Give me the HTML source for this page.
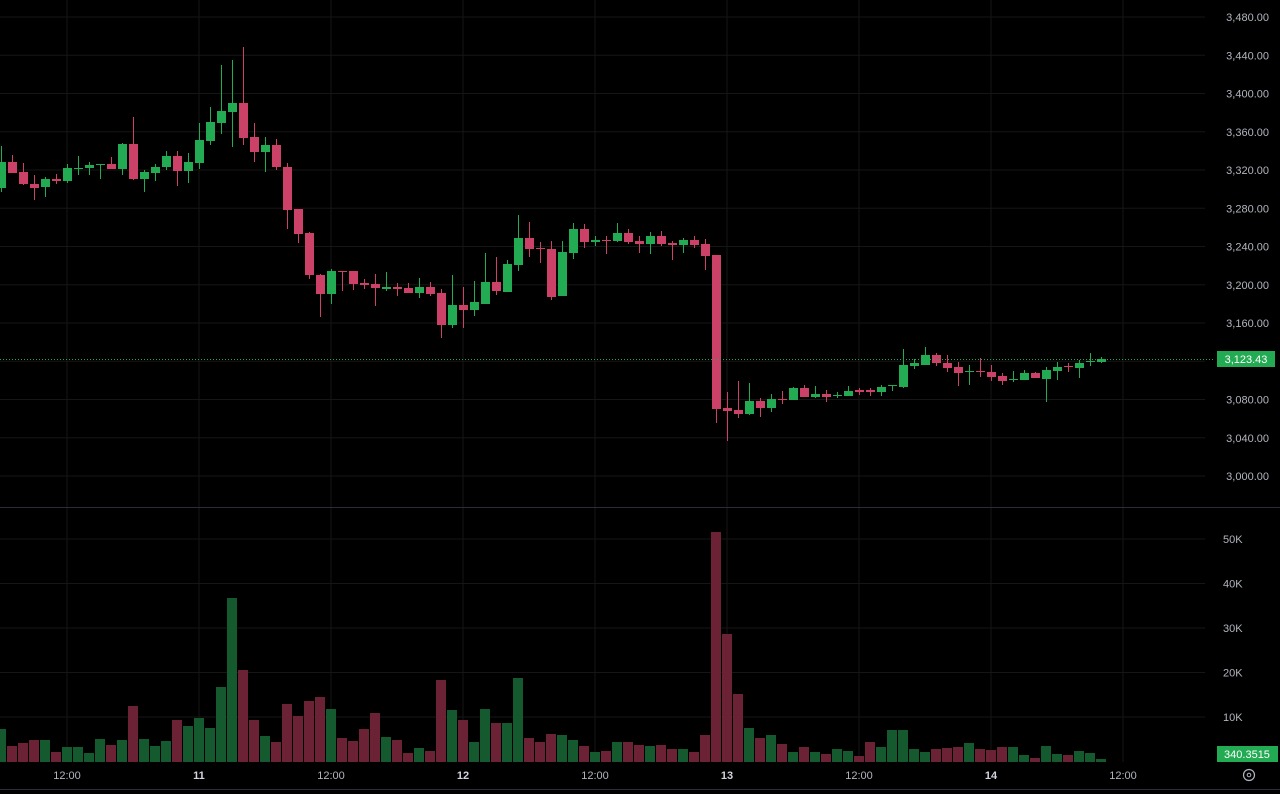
<!DOCTYPE html>
<html><head><meta charset="utf-8"><style>
html,body{margin:0;padding:0;background:#000;width:1280px;height:794px;overflow:hidden}
svg{display:block}
text{font-family:"Liberation Sans",sans-serif;font-size:11px;fill:#b2b5be}
</style></head><body>
<svg id="s" width="1280" height="794" xmlns="http://www.w3.org/2000/svg"></svg>
<script>
const C=[[188,162,146,192],[162,173,155,173],[172,184,163,185],[184,188,175,200],[187,179,177,197],[179,181,174,184],[181,168,164,183],[169,168,156,175],[168,165,162,175],[165,164,164,179],[164,169,157,169],[169,144,143,175],[144,179,117,180],[179,172,170,192],[173,167,164,181],[167,156,151,170],[156,171,151,186],[171,162,153,183],[163,140,123,169],[141,122,107,145],[123,111,65,134],[112,103,60,147],[103,138,47,145],[137,152,123,162],[152,145,137,172],[145,167,139,170],[167,210,163,229],[209,234,209,243],[233,275,232,279],[275,294,274,317],[294,271,269,304],[271,272,271,291],[271,284,271,290],[283,285,279,289],[284,288,274,306],[289,287,272,291],[287,289,283,296],[288,293,283,293],[293,287,278,298],[287,294,282,296],[293,325,289,338],[325,305,275,328],[305,310,287,328],[310,302,281,316],[304,282,253,304],[282,291,257,295],[292,264,260,292],[265,238,215,271],[238,249,222,257],[248,249,242,263],[249,297,241,300],[296,252,241,296],[253,229,223,259],[229,242,224,248],[242,240,236,246],[240,241,236,254],[241,233,223,242],[233,242,229,244],[241,244,236,253],[244,236,232,254],[236,244,231,246],[243,245,241,260],[245,240,238,253],[240,245,236,248],[244,256,239,270],[255,409,255,423],[408,411,392,441],[410,414,381,418],[414,401,383,415],[401,408,398,417],[408,399,394,412],[399,400,391,404],[400,388,387,400],[388,397,385,397],[397,394,386,398],[394,397,390,402],[396,395,392,398],[396,391,386,396],[390,392,388,395],[390,392,388,396],[392,387,385,396],[386,385,385,391],[387,365,349,388],[366,363,359,369],[365,355,347,365],[355,363,353,366],[363,368,355,372],[367,373,362,386],[372,371,365,385],[371,372,358,377],[372,377,365,381],[376,381,373,385],[380,379,371,382],[380,373,370,380],[373,378,372,378],[379,370,367,402],[371,367,362,380],[366,367,363,372],[368,363,360,378],[362,361,353,366],[362,359,357,363]];
const V=[729,746,743,740,740,752,747,747,753,739,745,740,706,739,746,741,720,726,718,728,687,598,670,720,736,742,704,716,701,697,709,738,741,729,713,737,740,753,748,751,680,710,720,742,709,723,723,678,738,742,734,735,740,746,752,751,742,742,745,746,745,749,749,752,735,532,634,694,728,738,735,744,752,747,752,754,749,751,756,742,747,730,730,749,752,749,748,747,743,749,750,747,747,755,758,746,754,755,751,753,759];
const VG=[1,0,0,0,1,0,1,1,1,1,0,1,0,1,1,1,0,1,1,1,1,1,0,0,1,0,0,0,0,0,1,0,0,0,0,1,0,0,1,0,0,1,0,1,1,0,1,1,0,0,0,1,1,0,1,0,1,0,0,1,0,0,1,0,0,0,0,0,1,0,1,0,1,0,1,0,1,1,0,0,1,1,1,1,1,0,0,0,1,0,0,0,1,1,0,1,1,0,1,1,1];
let h='';
// grid
for(let i=0;i<13;i++){const y=(17+i*38.25).toFixed(1);h+=`<line x1="0" x2="1205" y1="${y}" y2="${y}" stroke="#161616"/>`;}
for(let i=0;i<5;i++){const y=(539+i*44.5).toFixed(1);h+=`<line x1="0" x2="1205" y1="${y}" y2="${y}" stroke="#161616"/>`;}
for(let i=0;i<9;i++){const x=67+i*132;h+=`<line x1="${x}" x2="${x}" y1="0" y2="762" stroke="#161616"/>`;}
h+=`<line x1="0" x2="1280" y1="507.5" y2="507.5" stroke="#2a2e39"/>`;
h+=`<line x1="0" x2="1280" y1="789.5" y2="789.5" stroke="#2a2e39"/>`;
// volume
V.forEach((t,k)=>{const x=1+11*k;h+=`<rect x="${x-5}" y="${t}" width="10" height="${762-t}" fill="${VG[k]?'#155a2e':'#6b2234'}"/>`;});
// candles
C.forEach((c,k)=>{const x=1+11*k;const [o,cl,hi,lo]=c;const g=cl<=o&&!(cl==o);const col=(cl<o)?'#22ab52':'#cc4168';
const top=Math.min(o,cl),bh=Math.max(1,Math.abs(o-cl));
h+=`<line x1="${x+0.5}" x2="${x+0.5}" y1="${hi}" y2="${lo}" stroke="${col}"/>`;
h+=`<rect x="${x-4}" y="${top}" width="9" height="${bh}" fill="${col}"/>`;});
// current price line
h+=`<line x1="0" x2="1215" y1="359.5" y2="359.5" stroke="#22ab52" stroke-dasharray="1,2"/>`;
// price labels
const P=['3,480.00','3,440.00','3,400.00','3,360.00','3,320.00','3,280.00','3,240.00','3,200.00','3,160.00','3,120.00','3,080.00','3,040.00','3,000.00'];
P.forEach((p,i)=>{if(i==9)return;const y=17+i*38.25+4;h+=`<text x="1269" y="${y.toFixed(1)}" text-anchor="end">${p}</text>`;});
h+=`<rect x="1217" y="351" width="58" height="16" fill="#22ab52"/><text x="1246" y="363" text-anchor="middle" style="fill:#fff">3,123.43</text>`;
['50K','40K','30K','20K','10K'].forEach((p,i)=>{h+=`<text x="1223" y="${(539+i*44.5+4).toFixed(1)}">${p}</text>`;});
h+=`<rect x="1217" y="746" width="61" height="16" fill="#22ab52"/><text x="1247" y="758" text-anchor="middle" style="fill:#fff">340.3515</text>`;
h+=`<circle cx="1249" cy="775" r="5.5" fill="none" stroke="#b2b5be" stroke-width="1.2"/><circle cx="1249" cy="775" r="1.8" fill="none" stroke="#b2b5be"/>`;
// time labels
['12:00','11','12:00','12','12:00','13','12:00','14','12:00'].forEach((t,i)=>{const x=67+i*132;const b=!t.includes(':');h+=`<text x="${x}" y="779" text-anchor="middle" style="${b?'font-weight:bold;fill:#d1d4dc':''}">${t}</text>`;});
document.getElementById('s').innerHTML=h;
</script>
</body></html>
